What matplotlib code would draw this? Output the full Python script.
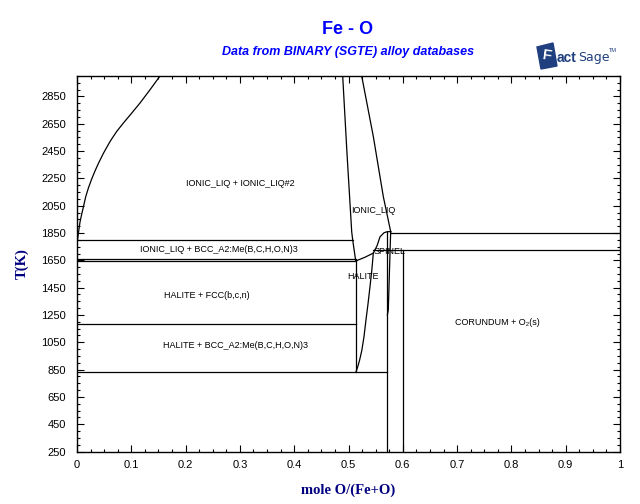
import numpy as np
import matplotlib
matplotlib.use("Agg")
import matplotlib.pyplot as plt
from matplotlib.patches import Polygon
from matplotlib.ticker import MultipleLocator

plt.rcParams['font.family'] = ['Liberation Sans', 'DejaVu Sans']

# phase boundaries, (x = mole O/(Fe+O), T in K)
gap_left_x = [0.001, 0.003, 0.0055, 0.0085, 0.012, 0.016, 0.021, 0.027, 0.033, 0.0392,
              0.0484, 0.0608, 0.0731, 0.0853, 0.1007, 0.116, 0.1344, 0.1529]
gap_left_T = [1800, 1860, 1930, 1985, 2045, 2115, 2180, 2245, 2303, 2358,
              2432, 2520, 2594, 2655, 2728, 2802, 2899, 3000]

liq_left_x = [0.4893, 0.4972, 0.5059, 0.5077, 0.5133]
liq_left_T = [3000, 2435, 1859, 1800, 1645]

liq_right_x = [0.5243, 0.5457, 0.5641, 0.5777]
liq_right_T = [3000, 2557, 2117, 1860]

halite_liq_x = [0.5133, 0.530, 0.5457, 0.5525, 0.558, 0.5654, 0.5714, 0.5777]
halite_liq_T = [1645, 1672, 1703, 1756, 1822, 1852, 1860, 1860]

halite_left_x = [0.5133, 0.5133]
halite_left_T = [1645, 835]

halite_right_x = [0.5140, 0.5170, 0.5205, 0.5245, 0.5285, 0.5322, 0.5362, 0.5396, 0.5430, 0.5457]
halite_right_T = [835, 870, 920, 990, 1090, 1214, 1340, 1458, 1580, 1703]

spinel_left_x = [0.5714, 0.5714]
spinel_left_T = [1860, 250]

spinel_right_x = [0.5777, 0.5764, 0.5746, 0.5733, 0.5716]
spinel_right_T = [1860, 1700, 1458, 1287, 1250]

corundum_x = [0.6, 0.6]
corundum_T = [1723, 250]

# horizontal invariant lines: (T, x start, x end)
iso_T = [1800, 1660, 1645, 1185, 835, 1848, 1723]
iso_x0 = [0, 0, 0, 0, 0, 0.5777, 0.5457]
iso_x1 = [0.5077, 0.5133, 0.5133, 0.5133, 0.5714, 1.0, 1.0]

# region labels
lab_text = ["IONIC_LIQ + IONIC_LIQ#2", "IONIC_LIQ", "IONIC_LIQ + BCC_A2:Me(B,C,H,O,N)3",
            "SPINEL", "HALITE", "HALITE + FCC(b,c,n)", "HALITE + BCC_A2:Me(B,C,H,O,N)3",
            "CORUNDUM + O\u2082(s)"]
lab_x = [0.301, 0.545, 0.2615, 0.5764, 0.5273, 0.2394, 0.2928, 0.7735]
lab_T = [2210, 2015, 1727, 1715, 1531, 1396, 1024, 1192]

navy = "#000080"
blue = "#0000ff"

fig = plt.figure(figsize=(6.4, 5.04), dpi=100)
ax = fig.add_axes([77/640, 1 - 451.5/504, 543/640, 375.5/504])

lw = 0.9
for xs, ts in [(gap_left_x, gap_left_T), (liq_left_x, liq_left_T), (liq_right_x, liq_right_T),
               (halite_liq_x, halite_liq_T), (halite_left_x, halite_left_T),
               (halite_right_x, halite_right_T), (spinel_left_x, spinel_left_T),
               (spinel_right_x, spinel_right_T), (corundum_x, corundum_T)]:
    ax.plot(xs, ts, color="black", lw=lw)

for t, a, b in zip(iso_T, iso_x0, iso_x1):
    ax.plot([a, b], [t, t], color="black", lw=lw)

for s, x, t in zip(lab_text, lab_x, lab_T):
    ax.text(x, t, s, fontsize=6.5, ha="center", va="center")

ax.set_xlim(0, 1)
ax.set_ylim(250, 3000)
ax.set_xticks(np.arange(0, 1.01, 0.1))
ax.set_xticklabels(["0"] + ["%.1f" % v for v in np.arange(0.1, 0.95, 0.1)] + ["1"])
ax.set_yticks(np.arange(250, 2900, 200))
ax.xaxis.set_minor_locator(MultipleLocator(0.025))
ax.yaxis.set_minor_locator(MultipleLocator(50))
ax.tick_params(which="both", direction="in", top=True, right=True, width=0.8)
ax.tick_params(which="major", length=5, labelsize=8)
ax.tick_params(which="minor", length=2.5)
ax.tick_params(axis="y", pad=8)
ax.tick_params(axis="x", pad=6)
for sp in ax.spines.values():
    sp.set_linewidth(1.0)

ax.set_xlabel("mole O/(Fe+O)", family="Liberation Serif", fontweight="bold",
              fontsize=10.5, color=navy, labelpad=10)
ax.set_ylabel("T(K)", family="Liberation Serif", fontweight="bold",
              fontsize=10.5, color=navy, labelpad=9)

fig.text(348/640, 1 - 30/504, "Fe - O", fontsize=13, fontweight="bold",
         color=blue, ha="center", va="center")
fig.text(348/640, 1 - 52/504, "Data from BINARY (SGTE) alloy databases", fontsize=9,
         fontweight="bold", style="italic", color=blue, ha="center", va="center")

# FactSage logo
logo = "#1f3f7f"
pts = [(537, 47), (553, 43), (557, 66), (541, 69)]
fig.patches.append(Polygon([(px/640, 1 - py/504) for px, py in pts], closed=True,
                           transform=fig.transFigure, color=logo))
fig.text(547/640, 1 - 56/504, "F", fontsize=11, fontweight="bold", color="white",
         ha="center", va="center", rotation=-8)
fig.text(557/640, 1 - 58/504, "act", fontsize=10, fontweight="bold", color=logo,
         ha="left", va="center")
fig.text(578/640, 1 - 57/504, "Sage", fontsize=9, family="Liberation Sans Narrow",
         color=logo, ha="left", va="center")
fig.text(609/640, 1 - 50/504, "TM", fontsize=4, color=logo, ha="left", va="center")

fig.savefig("out.png", dpi=100)
